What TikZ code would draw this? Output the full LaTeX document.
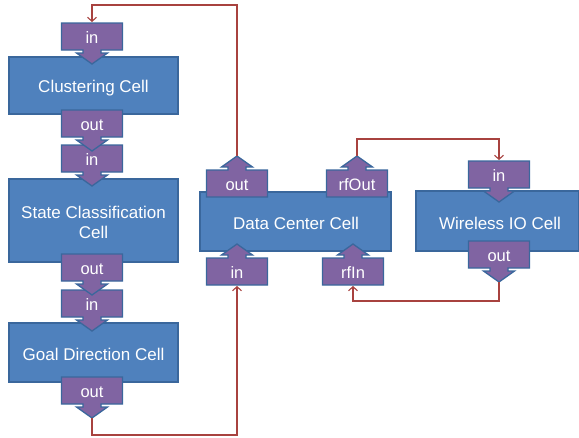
\documentclass[tikz,border=0pt]{standalone}
\usepackage{fontspec}
\setmainfont{Liberation Sans}
\usetikzlibrary{arrows.meta}
\definecolor{cellblue}{HTML}{4F81BD}
\definecolor{celledge}{HTML}{3A679C}
\definecolor{portpurple}{HTML}{8064A2}
\definecolor{linkred}{HTML}{A8423F}
\tikzset{
  cellbox/.style={draw=celledge, fill=cellblue, line width=1.3pt},
  portsty/.style={draw=celledge, fill=portpurple, line width=1.3pt, line join=miter},
  celltext/.style={text=white, font=\fontsize{17}{20.5}\selectfont, align=center, inner sep=0pt},
  porttext/.style={text=white, font=\fontsize{16.5}{19}\selectfont, inner sep=0pt},
  conn/.style={draw=linkred, line width=1.2pt, -{Straight Barb[length=4pt,width=9pt,line width=1.1pt]}, shorten >=1pt}
}
% down port: name, cx, box top, label
\newcommand\dport[4]{%
  \draw[portsty] (#2-30.5,#3) -- (#2+30.5,#3) -- (#2+30.5,#3+27) -- (#2+9,#3+27) -- (#2+9,#3+30)
    -- (#2+15.5,#3+30) -- (#2,#3+41) -- (#2-15.5,#3+30) -- (#2-9,#3+30) -- (#2-9,#3+27)
    -- (#2-30.5,#3+27) -- cycle;
  \node[porttext] (#1) at (#2,#3+15) {#4};
  \coordinate (#1-top) at (#2,#3);
  \coordinate (#1-tip) at (#2,#3+41);
}
% up port: name, cx, box top, label
\newcommand\uport[4]{%
  \draw[portsty] (#2-30.5,#3+27) -- (#2+30.5,#3+27) -- (#2+30.5,#3) -- (#2+9,#3) -- (#2+9,#3-3)
    -- (#2+15.5,#3-3) -- (#2,#3-14) -- (#2-15.5,#3-3) -- (#2-9,#3-3) -- (#2-9,#3)
    -- (#2-30.5,#3) -- cycle;
  \node[porttext] (#1) at (#2,#3+15) {#4};
  \coordinate (#1-bot) at (#2,#3+27);
  \coordinate (#1-tip) at (#2,#3-14);
}
\begin{document}
\begin{tikzpicture}[x=1pt,y=-1pt]
\useasboundingbox (0,0) rectangle (579,437);
% cells
\draw[cellbox] (9,57) rectangle (178,114);
\node[celltext] (clus) at (93.5,88.5) {Clustering Cell};
\draw[cellbox] (9,179) rectangle (178,262);
\node[celltext] (state) at (93.5,222.5) {State Classification\\Cell};
\draw[cellbox] (9,323) rectangle (178,382);
\node[celltext] (goal) at (93.5,354.5) {Goal Direction Cell};
\draw[cellbox] (200,192) rectangle (391,251);
\node[celltext] (dc) at (296,223.5) {Data Center Cell};
\draw[cellbox] (416,191) rectangle (578.5,251);
\node[celltext] (wio) at (500,223.5) {Wireless IO Cell};
% ports
\dport{in1}{92}{23}{in}
\dport{in2}{92}{145}{in}
\dport{in3}{92}{290}{in}
\dport{out1}{92}{110}{out}
\dport{out2}{92}{254}{out}
\dport{out3}{92}{377}{out}
\uport{dout}{237}{170}{out}
\uport{rfout}{357}{170}{rfOut}
\uport{din}{237}{258}{in}
\uport{rfin}{353}{258}{rfIn}
\dport{win}{499}{161}{in}
\dport{wout}{499}{241}{out}
% connectors
\draw[conn] (out3-tip) -- ++(0,17) -| (din-bot);
\draw[conn] (dout-tip) -- ++(0,-151) -| (in1-top);
\draw[conn] (rfout-tip) -- ++(0,-17) -| (win-top);
\draw[conn] (wout-tip) -- ++(0,19) -| (rfin-bot);
\end{tikzpicture}
\end{document}
